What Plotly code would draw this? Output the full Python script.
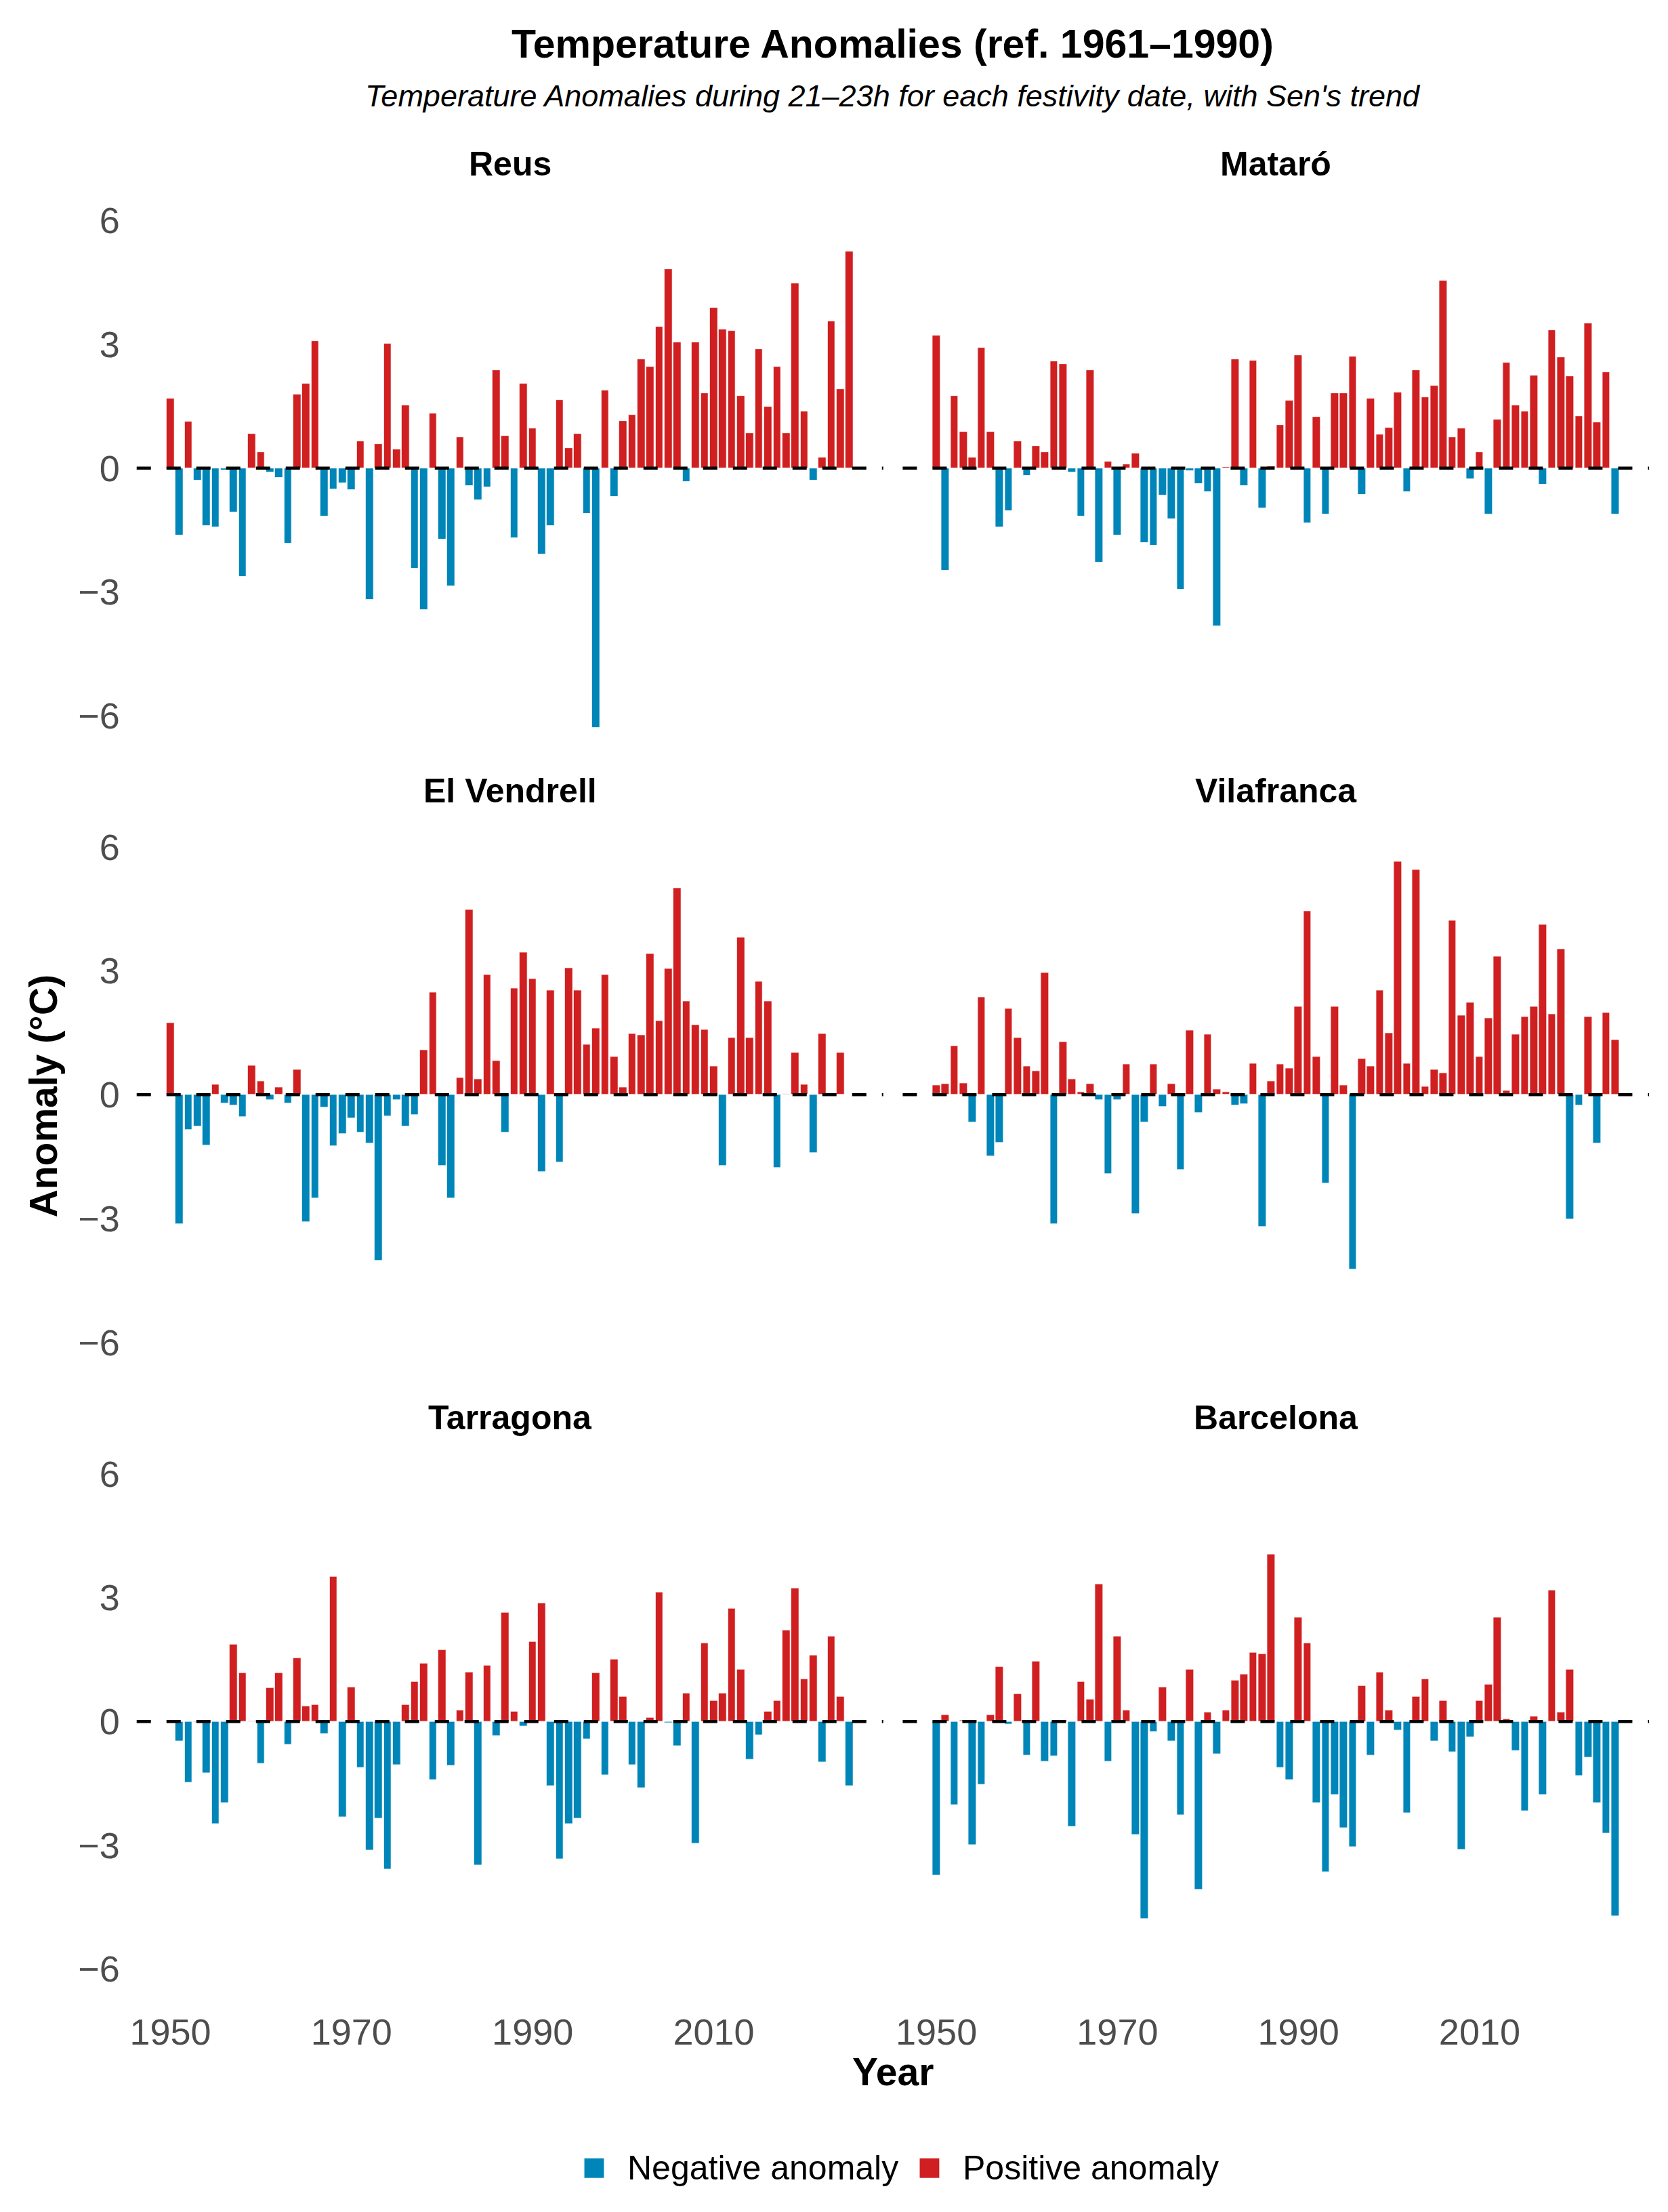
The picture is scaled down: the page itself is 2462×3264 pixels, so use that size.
import plotly.graph_objects as go
from plotly.subplots import make_subplots

# Datos: anomalías de temperatura (°C) por año, 21-23h, ref. 1961-1990
YEARS = list(range(1950, 2026))

REUS = [1.69, -1.63, 1.12, -0.30, -1.40, -1.43, -0.06, -1.08, -2.64, 0.83,
        0.38, -0.11, -0.24, -1.83, 1.78, 2.05, 3.08, -1.17, -0.51, -0.37,
        -0.54, 0.65, -3.19, 0.58, 3.02, 0.46, 1.52, -2.44, -3.44, 1.33,
        -1.73, -2.87, 0.75, -0.43, -0.78, -0.47, 2.38, 0.78, -1.70, 2.05,
        0.97, -2.09, -1.40, 1.65, 0.49, 0.83, -1.10, -6.29, 1.89, -0.70,
        1.15, 1.29, 2.64, 2.45, 3.42, 4.82, 3.05, -0.33, 3.05, 1.82,
        3.88, 3.36, 3.32, 1.75, 0.85, 2.88, 1.48, 2.45, 0.85, 4.48,
        1.38, -0.30, 0.26, 3.55, 1.92, 5.25]

MATARO = [3.22, -2.48, 1.75, 0.88, 0.25, 2.92, 0.88, -1.43, -1.04, 0.65,
          -0.18, 0.53, 0.38, 2.59, 2.52, -0.11, -1.17, 2.38, -2.29, 0.15,
          -1.64, 0.09, 0.36, -1.81, -1.88, -0.67, -1.23, -2.94, -0.08, -0.38,
          -0.58, -3.83, 0.03, 2.63, -0.43, 2.61, -0.98, 0.05, 1.05, 1.63,
          2.74, -1.33, 1.24, -1.13, 1.81, 1.81, 2.71, -0.65, 1.68, 0.82,
          0.98, 1.84, -0.58, 2.38, 1.72, 1.99, 4.54, 0.75, 0.96, -0.27,
          0.38, -1.13, 1.18, 2.55, 1.52, 1.38, 2.24, -0.40, 3.35, 2.68,
          2.22, 1.25, 3.51, 1.11, 2.32, -1.13]

EL_VENDRELL = [1.74, -3.14, -0.85, -0.78, -1.23, 0.24, -0.21, -0.26, -0.55, 0.71,
               0.33, -0.14, 0.18, -0.21, 0.61, -3.08, -2.52, -0.31, -1.25, -0.95,
               -0.58, -0.92, -1.18, -4.03, -0.52, -0.14, -0.78, -0.49, 1.08, 2.48,
               -1.72, -2.52, 0.40, 4.47, 0.37, 2.90, 0.81, -0.92, 2.58, 3.45,
               2.80, -1.88, 2.53, -1.65, 3.07, 2.53, 1.21, 1.61, 2.90, 0.91,
               0.18, 1.48, 1.44, 3.41, 1.78, 3.05, 5.01, 2.27, 1.68, 1.57,
               0.68, -1.72, 1.37, 3.80, 1.37, 2.73, 2.27, -1.78, 0.02, 1.01,
               0.24, -1.41, 1.48, None, 1.01, None]

VILAFRANCA = [0.22, 0.26, 1.18, 0.28, -0.67, 2.36, -1.50, -1.16, 2.08, 1.38,
              0.69, 0.57, 2.95, -3.14, 1.27, 0.38, 0.06, 0.26, -0.13, -1.93,
              -0.13, 0.73, -2.89, -0.67, 0.73, -0.30, 0.26, -1.83, 1.56, -0.44,
              1.46, 0.13, 0.06, -0.27, -0.24, 0.76, -3.20, 0.32, 0.73, 0.63,
              2.13, 4.44, 0.92, -2.16, 2.13, 0.22, -4.23, 0.86, 0.69, 2.53,
              1.49, 5.65, 0.76, 5.45, 0.19, 0.60, 0.52, 4.22, 1.92, 2.23,
              0.92, 1.86, 3.35, 0.09, 1.46, 1.89, 2.13, 4.12, 1.95, 3.53,
              -3.02, -0.26, 1.89, -1.19, 1.98, 1.33]

TARRAGONA = [None, -0.48, -1.49, -0.02, -1.26, -2.48, -1.98, 1.87, 1.18, 0.01,
             -1.03, 0.81, 1.18, -0.56, 1.53, 0.37, 0.40, -0.30, 3.50, -2.32,
             0.83, -1.12, -3.12, -2.35, -3.59, -1.05, 0.40, 0.97, 1.41, -1.42,
             1.73, -1.08, 0.27, 1.19, -3.48, 1.36, -0.35, 2.63, 0.24, -0.12,
             1.93, 2.86, -1.56, -3.34, -2.48, -2.35, -0.44, 1.18, -1.31, 1.51,
             0.60, -1.05, -1.62, 0.10, 3.13, -0.04, -0.59, 0.68, -2.96, 1.90,
             0.50, 0.68, 2.73, 1.26, -0.92, -0.33, 0.24, 0.50, 2.21, 3.23,
             1.03, 1.60, -0.99, 2.07, 0.60, -1.56]

BARCELONA = [-3.74, 0.16, -2.03, 0.03, -2.99, -1.53, 0.16, 1.33, -0.08, 0.66,
             -0.83, 1.46, -0.98, -0.85, 0.03, -2.55, 0.97, 0.53, 3.32, -0.98,
             2.06, 0.27, -2.75, -4.78, -0.25, 0.83, -0.48, -2.28, 1.26, -4.08,
             0.23, -0.79, 0.27, 1.00, 1.14, 1.67, 1.63, 4.05, -1.12, -1.42,
             2.53, 1.90, -1.98, -3.65, -1.78, -2.58, -3.05, 0.86, -0.83, 1.19,
             0.27, -0.22, -2.22, 0.60, 1.03, -0.48, 0.50, -0.75, -3.11, -0.39,
             0.50, 0.90, 2.53, 0.06, -0.72, -2.18, 0.13, -1.78, 3.18, 0.23,
             1.26, -1.32, -0.88, -1.98, -2.72, -4.72]

STATIONS = ['Reus', 'Mataró', 'El Vendrell', 'Vilafranca', 'Tarragona', 'Barcelona']
SERIES = [REUS, MATARO, EL_VENDRELL, VILAFRANCA, TARRAGONA, BARCELONA]

Y_TICKS = [-6, -3, 0, 3, 6]
X_TICKS = [1950, 1970, 1990, 2010]
LEGEND_LABELS = ['Negative anomaly', 'Positive anomaly']

TITLE = 'Temperature Anomalies (ref. 1961–1990)'
SUBTITLE = "Temperature Anomalies during 21–23h for each festivity date, with Sen's trend"

COLORS = {
    'neg': '#0085b8',
    'pos': '#d01f20',
    'ticks': '#4d4d4d',
}
FONT = 'Liberation Sans, Arial, sans-serif'

# Tamaño de la figura (la página añade 8px de margen al body)
W, H = 2446, 3248
PAGE_MARGIN = 8

# Posiciones de los paneles en píxeles de pantalla
PANEL_X = [(192.5, 1299.0), (1327.8, 2434.0)]
PANEL_Y = [(296.5, 1101.0), (1225.0, 2030.0), (2154.5, 2959.0)]


def fx(px):
    return (px - PAGE_MARGIN) / W


def fy(py):
    return 1 - (py - PAGE_MARGIN) / H


def bar_colors(values):
    return [COLORS['pos'] if (v is not None and v >= 0) else COLORS['neg'] for v in values]


fig = make_subplots(rows=3, cols=2)

for i, (name, values) in enumerate(zip(STATIONS, SERIES)):
    row, col = i // 2 + 1, i % 2 + 1
    fig.add_trace(go.Bar(
        x=YEARS,
        y=values,
        width=0.87,
        marker=dict(color=bar_colors(values), line=dict(color='white', width=1)),
        name=name,
        showlegend=False,
        hovertemplate=name + ' %{x}: %{y:.2f} °C<extra></extra>',
    ), row=row, col=col)

    # línea discontinua en cero
    fig.add_hline(y=0, row=row, col=col,
                  line=dict(color='black', width=4.5, dash='21px,23px'))

    x0, x1 = PANEL_X[col - 1]
    y0, y1 = PANEL_Y[row - 1]
    fig.update_xaxes(
        domain=[fx(x0), fx(x1)],
        range=[1946.28, 2028.72],
        tickvals=X_TICKS,
        showticklabels=(row == 3),
        showgrid=False, zeroline=False, showline=False, ticks='',
        tickfont=dict(family=FONT, size=54, color=COLORS['ticks']),
        ticklabelstandoff=2,
        row=row, col=col,
    )
    fig.update_yaxes(
        domain=[fy(y1), fy(y0)],
        range=[-6.9, 6.25],
        tickvals=Y_TICKS,
        showticklabels=(col == 1),
        showgrid=False, zeroline=False, showline=False, ticks='',
        tickfont=dict(family=FONT, size=54, color=COLORS['ticks']),
        ticklabelstandoff=24,
        row=row, col=col,
    )

    # título de cada panel
    fig.add_annotation(
        x=fx((x0 + x1) / 2), y=fy(y0 - 68), xref='paper', yref='paper',
        text=f'<b>{name}</b>', showarrow=False,
        xanchor='center', yanchor='middle',
        font=dict(family=FONT, size=50, color='black'),
    )

center_x = fx((PANEL_X[0][0] + PANEL_X[1][1]) / 2)

annotations = [
    dict(x=center_x, y=fy(50), text=f'<b>{TITLE}</b>',
         font=dict(family=FONT, size=59, color='black')),
    dict(x=center_x, y=fy(127), text=f'<i>{SUBTITLE}</i>',
         font=dict(family=FONT, size=45, color='black')),
    dict(x=center_x, y=fy(3056), text='<b>Year</b>',
         font=dict(family=FONT, size=57, color='black')),
    dict(x=fx(54), y=fy(1610), text='<b>Anomaly (°C)</b>', textangle=-90,
         font=dict(family=FONT, size=57, color='black')),
]
for a in annotations:
    fig.add_annotation(xref='paper', yref='paper', showarrow=False,
                       xanchor='center', yanchor='middle', **a)

# Leyenda manual (cuadrados grandes como en la referencia)
legend_y = 3199
legend_items = [(856, 918, COLORS['neg'], LEGEND_LABELS[0]),
                (1353, 1415, COLORS['pos'], LEGEND_LABELS[1])]
for box_x, text_x, color, label in legend_items:
    fig.add_shape(type='rect', xref='paper', yref='paper',
                  x0=fx(box_x), x1=fx(box_x + 29),
                  y0=fy(legend_y + 14.5), y1=fy(legend_y - 14.5),
                  fillcolor=color, line=dict(width=0))
    fig.add_annotation(x=fx(text_x), y=fy(legend_y), xref='paper', yref='paper',
                       text=label, showarrow=False, xanchor='left', yanchor='middle',
                       font=dict(family=FONT, size=50, color='black'))

fig.update_layout(
    width=W, height=H, autosize=False,
    margin=dict(l=0, r=0, t=0, b=0),
    plot_bgcolor='white', paper_bgcolor='white',
    bargap=0, showlegend=False,
    font=dict(family=FONT),
)

fig.write_html("out.html")
